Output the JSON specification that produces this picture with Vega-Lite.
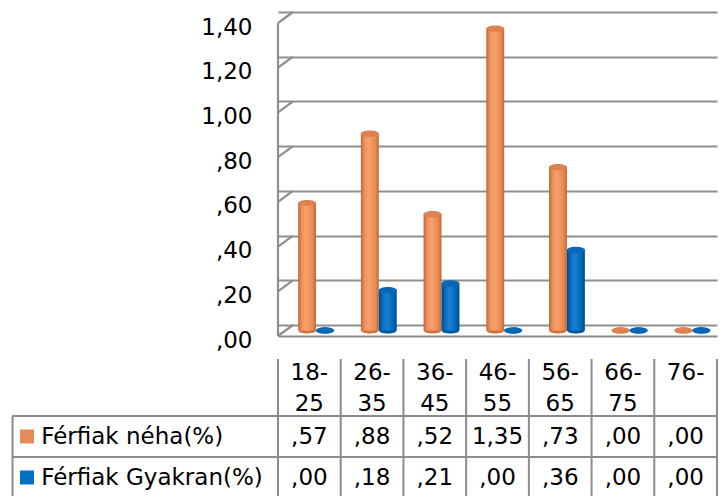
{
  "$schema": "https://vega.github.io/schema/vega-lite/v6.json",
  "width": 439,
  "height": 313,
  "autosize": {"type": "none"},
  "padding": {"left": 278, "top": 23, "right": 3, "bottom": 160},
  "background": "#ffffff",
  "config": {
    "view": {"stroke": null, "fill": null},
    "font": "DejaVu Sans",
    "axisY": {"tickOffset": -11, "offset": -15}
  },
  "datasets": {
    "bars": [
      {"age": "18-25", "series": "Férfiak néha(%)", "value": 0.57},
      {"age": "26-35", "series": "Férfiak néha(%)", "value": 0.88},
      {"age": "36-45", "series": "Férfiak néha(%)", "value": 0.52},
      {"age": "46-55", "series": "Férfiak néha(%)", "value": 1.35},
      {"age": "56-65", "series": "Férfiak néha(%)", "value": 0.73},
      {"age": "66-75", "series": "Férfiak néha(%)", "value": 0.0},
      {"age": "76-", "series": "Férfiak néha(%)", "value": 0.0},
      {"age": "18-25", "series": "Férfiak Gyakran(%)", "value": 0.0},
      {"age": "26-35", "series": "Férfiak Gyakran(%)", "value": 0.18},
      {"age": "36-45", "series": "Férfiak Gyakran(%)", "value": 0.21},
      {"age": "46-55", "series": "Férfiak Gyakran(%)", "value": 0.0},
      {"age": "56-65", "series": "Férfiak Gyakran(%)", "value": 0.36},
      {"age": "66-75", "series": "Férfiak Gyakran(%)", "value": 0.0},
      {"age": "76-", "series": "Férfiak Gyakran(%)", "value": 0.0}
    ],
    "levels": [
      {"v": 0}, {"v": 0.2}, {"v": 0.4}, {"v": 0.6},
      {"v": 0.8}, {"v": 1.0}, {"v": 1.2}, {"v": 1.4}
    ],
    "ages": [
      {"age": "18-25"}, {"age": "26-35"}, {"age": "36-45"}, {"age": "46-55"},
      {"age": "56-65"}, {"age": "66-75"}, {"age": "76-"}
    ],
    "rows": [
      {"series": "Férfiak néha(%)"},
      {"series": "Férfiak Gyakran(%)"}
    ]
  },
  "layer": [
    {
      "layer": [
        {
          "data": {"name": "levels"},
          "mark": {"type": "rule", "stroke": "#8f8f8f", "strokeWidth": 2.2, "x2Offset": 15, "y2Offset": -11},
          "encoding": {
            "x": {
              "datum": "18-25", "bandPosition": 0,
              "scale": {"domain": ["18-25", "26-35", "36-45", "46-55", "56-65", "66-75", "76-"], "paddingInner": 0, "paddingOuter": 0}
            },
            "x2": {"datum": "18-25", "bandPosition": 0},
            "y": {
              "field": "v", "type": "quantitative",
              "scale": {"domain": [0, 1.4], "nice": false},
              "axis": {
                "title": null,
                "values": [0, 0.2, 0.4, 0.6, 0.8, 1, 1.2, 1.4],
                "labelExpr": "(datum.value < 1 ? '' : floor(datum.value)) + ',' + slice(format(datum.value, '.2f'), -2)",
                "offset": -15, "tickOffset": -11,
                "domain": false, "ticks": false,
                "grid": true, "gridColor": "#8f8f8f", "gridWidth": 2.2, "gridOpacity": 1,
                "labelFont": "DejaVu Sans", "labelFontSize": 23, "labelColor": "#000000",
                "labelPadding": 41, "labelOffset": 15, "labelBaseline": "middle",
                "labelOverlap": false, "labelFlush": false
              }
            },
            "y2": {"field": "v"}
          }
        },
        {
          "data": {"name": "rows"},
          "transform": [{"filter": "datum.series === 'Férfiak néha(%)'"}],
          "mark": {"type": "rule", "stroke": "#8f8f8f", "strokeWidth": 2.2},
          "encoding": {
            "x": {"datum": "18-25", "bandPosition": 0},
            "y": {"datum": 0, "type": "quantitative"},
            "y2": {"datum": 1.4}
          }
        },
        {
          "data": {"name": "bars"},
          "mark": {
            "type": "point",
            "shape": "M-1,0A1,0.35,0,1,1,1,0A1,0.35,0,1,1,-1,0Z",
            "filled": true, "size": 306, "opacity": 1, "strokeWidth": 0, "yOffset": -5.5
          },
          "encoding": {
            "x": {"field": "age", "type": "nominal"},
            "xOffset": {"field": "series", "type": "nominal"},
            "y": {"datum": 0, "type": "quantitative"},
            "fill": {
              "condition": {"test": "datum.series === 'Férfiak néha(%)'", "value": "#cf7440"},
              "value": "#00579f"
            }
          }
        },
        {
          "data": {"name": "bars"},
          "transform": [{"filter": "datum.series === 'Férfiak néha(%)'"}],
          "mark": {
            "type": "bar", "yOffset": -5.5, "y2Offset": -5.5,
            "fill": {
              "gradient": "linear", "x1": 0, "x2": 1, "y1": 0, "y2": 0,
              "stops": [
                {"offset": 0, "color": "#c2672f"},
                {"offset": 0.22, "color": "#ee9460"},
                {"offset": 0.45, "color": "#f6a06c"},
                {"offset": 0.8, "color": "#e98a52"},
                {"offset": 1, "color": "#c06a36"}
              ]
            }
          },
          "encoding": {
            "x": {
              "field": "age", "type": "nominal",
              "axis": {
                "title": null,
                "domain": true, "domainColor": "#8c8c8c", "domainWidth": 2,
                "ticks": false, "grid": false, "labelAngle": 0, "labelAlign": "center",
                "labelExpr": "[slice(datum.label, 0, indexof(datum.label, '-') + 1), slice(datum.label, indexof(datum.label, '-') + 1)]",
                "labelFont": "DejaVu Sans", "labelFontSize": 23, "labelColor": "#000000",
                "labelBaseline": "alphabetic", "labelLineHeight": 31, "labelPadding": 43.3,
                "labelOverlap": false, "labelLimit": 0
              }
            },
            "xOffset": {
              "field": "series", "type": "nominal",
              "scale": {"domain": ["Férfiak néha(%)", "Férfiak Gyakran(%)"], "paddingInner": 0, "paddingOuter": 0.75, "align": 0.75}
            },
            "y": {"field": "value", "type": "quantitative", "title": null},
            "y2": {"datum": 0}
          }
        },
        {
          "data": {"name": "bars"},
          "transform": [{"filter": "datum.series === 'Férfiak Gyakran(%)'"}],
          "mark": {
            "type": "bar", "yOffset": -5.5, "y2Offset": -5.5,
            "fill": {
              "gradient": "linear", "x1": 0, "x2": 1, "y1": 0, "y2": 0,
              "stops": [
                {"offset": 0, "color": "#004a8a"},
                {"offset": 0.25, "color": "#0a72c4"},
                {"offset": 0.45, "color": "#1a80d4"},
                {"offset": 0.8, "color": "#0068b8"},
                {"offset": 1, "color": "#00498a"}
              ]
            }
          },
          "encoding": {
            "x": {"field": "age", "type": "nominal"},
            "xOffset": {"field": "series", "type": "nominal"},
            "y": {"field": "value", "type": "quantitative", "title": null},
            "y2": {"datum": 0}
          }
        },
        {
          "data": {"name": "bars"},
          "mark": {
            "type": "point",
            "shape": "M-1,0A1,0.35,0,1,1,1,0A1,0.35,0,1,1,-1,0Z",
            "filled": true, "size": 330, "opacity": 1, "strokeWidth": 0, "yOffset": -5.5
          },
          "encoding": {
            "x": {"field": "age", "type": "nominal"},
            "xOffset": {"field": "series", "type": "nominal"},
            "y": {"field": "value", "type": "quantitative", "title": null},
            "fill": {
              "condition": {"test": "datum.series === 'Férfiak néha(%)'", "value": "#dc8150"},
              "value": "#0a66b6"
            }
          }
        }
      ]
    },
    {
      "layer": [
        {
          "data": {"name": "rows"},
          "mark": {"type": "rule", "stroke": "#8c8c8c", "strokeWidth": 2, "xOffset": -266},
          "encoding": {
            "x": {"datum": "18-25", "bandPosition": 0},
            "x2": {"datum": "76-", "bandPosition": 1},
            "y": {
              "field": "series", "type": "nominal", "bandPosition": 0,
              "scale": {"domain": ["Férfiak néha(%)", "Férfiak Gyakran(%)"], "range": [393, 475], "paddingInner": 0, "paddingOuter": 0},
              "axis": {
                "title": null, "orient": "left", "offset": 266, "tickOffset": 0,
                "domain": true, "domainColor": "#8c8c8c", "domainWidth": 2,
                "ticks": false, "grid": false,
                "labelAlign": "left", "labelPadding": -28.7, "labelBaseline": "middle",
                "labelFont": "DejaVu Sans", "labelFontSize": 23, "labelColor": "#000000",
                "labelLimit": 0, "labelOverlap": false
              }
            }
          }
        },
        {
          "data": {"name": "ages"},
          "mark": {"type": "rule", "stroke": "#8c8c8c", "strokeWidth": 2, "yOffset": -57},
          "encoding": {
            "x": {"field": "age", "type": "nominal", "bandPosition": 0},
            "y": {"datum": "Férfiak néha(%)", "type": "nominal", "bandPosition": 0},
            "y2": {"datum": "Férfiak Gyakran(%)", "bandPosition": 1}
          }
        },
        {
          "data": {"name": "rows"},
          "transform": [{"filter": "datum.series === 'Férfiak néha(%)'"}],
          "mark": {"type": "rule", "stroke": "#8c8c8c", "strokeWidth": 2, "yOffset": -57},
          "encoding": {
            "x": {"datum": "76-", "bandPosition": 1},
            "y": {"datum": "Férfiak néha(%)", "type": "nominal", "bandPosition": 0},
            "y2": {"datum": "Férfiak Gyakran(%)", "bandPosition": 1}
          }
        },
        {
          "data": {"name": "bars"},
          "mark": {
            "type": "text",
            "text": {"expr": "(datum.value < 1 ? '' : floor(datum.value)) + ',' + slice(format(datum.value, '.2f'), -2)"},
            "font": "DejaVu Sans", "fontSize": 23, "color": "#000000", "align": "center", "baseline": "middle"
          },
          "encoding": {
            "x": {"field": "age", "type": "nominal"},
            "y": {"field": "series", "type": "nominal", "title": null}
          }
        },
        {
          "data": {"name": "rows"},
          "mark": {"type": "point", "shape": "square", "filled": true, "size": 196, "opacity": 1, "strokeWidth": 0, "xOffset": -251},
          "encoding": {
            "x": {"datum": "18-25", "bandPosition": 0},
            "y": {"field": "series", "type": "nominal", "title": null},
            "fill": {
              "condition": {"test": "datum.series === 'Férfiak néha(%)'", "value": "#e8895a"},
              "value": "#0070c0"
            }
          }
        }
      ]
    }
  ],
  "resolve": {"scale": {"y": "independent"}}
}
